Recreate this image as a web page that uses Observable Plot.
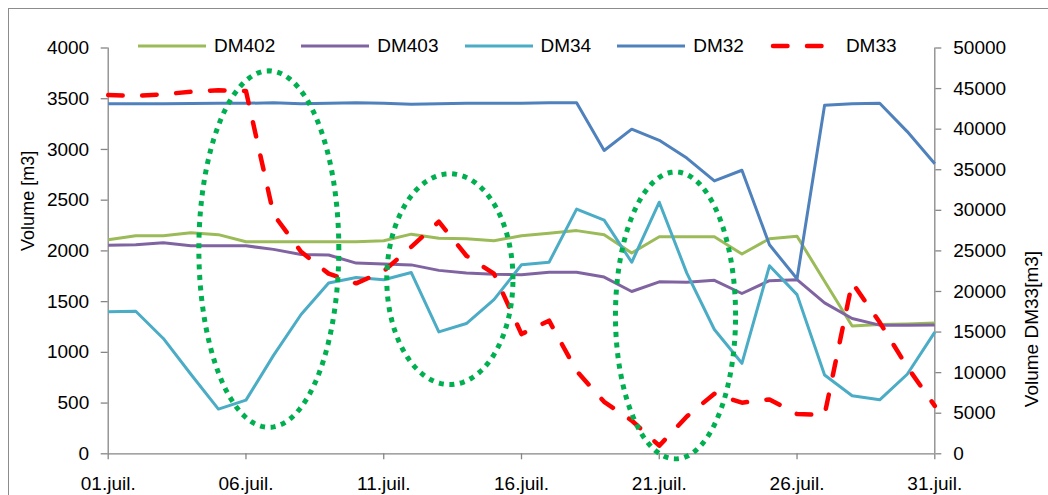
<!DOCTYPE html>
<html><head><meta charset="utf-8">
<script src="https://cdn.jsdelivr.net/npm/d3@7"></script>
<script src="https://cdn.jsdelivr.net/npm/@observablehq/plot@0.6"></script>
<style>
html,body{margin:0;padding:0;background:#fff;overflow:hidden;}
#wrap{position:relative;width:1048px;height:495px;font-family:"Liberation Sans",Arial,sans-serif;}
#frame{position:absolute;left:8px;top:8px;width:1100px;height:600px;border:1.3px solid #8c8c8c;box-sizing:border-box;pointer-events:none;}
#chart{position:absolute;left:0;top:0;}
#legend{position:absolute;left:138px;top:35px;display:flex;align-items:center;font-size:19px;line-height:22px;white-space:nowrap;}
.item{display:flex;align-items:center;margin-right:26px;}
.item svg{margin-right:8px;display:block;}
</style></head>
<body><div id="wrap"><div id="frame"></div><div id="chart"></div><div id="legend"></div></div>
<script>
// ---- data ----
const days = d3.range(1, 32);
const xTickDays = [1, 6, 11, 16, 21, 26, 31];
const leftTicks = [0, 500, 1000, 1500, 2000, 2500, 3000, 3500, 4000];
const rightTicks = [0, 5000, 10000, 15000, 20000, 25000, 30000, 35000, 40000, 45000, 50000];

const seriesNames = ["DM402", "DM403", "DM34", "DM32", "DM33"];
const seriesColors = ["#9bbb59", "#8064a2", "#4bacc6", "#4f81bd", "#ff0000"];

const dm402 = [2110, 2150, 2150, 2180, 2160, 2090, 2090, 2090, 2090, 2090, 2100, 2165, 2125, 2120, 2100, 2150, 2175, 2200, 2160, 1980, 2140, 2140, 2140, 1970, 2120, 2145, 1700, 1260, 1275, 1280, 1290];
const dm403 = [2055, 2060, 2080, 2050, 2050, 2050, 2015, 1965, 1960, 1880, 1870, 1862, 1808, 1782, 1770, 1765, 1790, 1790, 1742, 1600, 1695, 1690, 1710, 1580, 1706, 1716, 1488, 1333, 1268, 1268, 1270];
const dm34  = [1400, 1405, 1137, 784, 441, 529, 970, 1373, 1683, 1738, 1716, 1787, 1202, 1284, 1520, 1863, 1888, 2412, 2304, 1888, 2480, 1781, 1225, 892, 1853, 1569, 777, 572, 532, 784, 1199];
const dm32  = [3450, 3450, 3450, 3452, 3455, 3455, 3460, 3450, 3455, 3460, 3455, 3445, 3450, 3455, 3455, 3455, 3460, 3460, 2990, 3200, 3090, 2915, 2690, 2795, 2060, 1725, 3435, 3450, 3455, 3176, 2860];
const dm33  = [44200, 44100, 44300, 44600, 44800, 44700, 29500, 24900, 22200, 21000, 22500, 25500, 28600, 24400, 22200, 14750, 16400, 10200, 6400, 4100, 1000, 4600, 7400, 6300, 6700, 4900, 4800, 21100, 16200, 10700, 5900];

// annotation ellipses (centre in days / left-axis units, radii)
const ellipseCx = [6.83, 13.4, 21.59];
const ellipseCy = [2018, 1721, 1364];
const ellipseRx = [2.54, 2.29, 2.18];
const ellipseRy = [1757, 1039, 1414];

// ---- build ----
const k = 4000 / 50000; // right axis -> left axis units
const seriesValues = [dm402, dm403, dm34, dm32, dm33];
const secondary = [false, false, false, false, true];
const axisColor = "#868686";

const rows = [];
seriesNames.forEach((name, s) => seriesValues[s].forEach((v, i) =>
  rows.push({series: name, day: days[i], y: secondary[s] ? v * k : v})));

const ell = [];
ellipseCx.forEach((cx, e) => {
  d3.range(0, 360, 2).forEach(a => {
    const t = a * Math.PI / 180;
    ell.push({id: e, x: cx + ellipseRx[e] * Math.cos(t), y: ellipseCy[e] + ellipseRy[e] * Math.sin(t)});
  });
});

const lineMarks = seriesNames.map((name, s) => Plot.line(rows.filter(r => r.series === name), {
  x: "day", y: "y", stroke: seriesColors[s],
  strokeWidth: secondary[s] ? 4.5 : 3,
  strokeDasharray: secondary[s] ? "14.5,19.5" : null,
  strokeLinecap: secondary[s] ? "round" : "butt",
  strokeLinejoin: "round"
}));

const chart = Plot.plot({
  width: 1048, height: 495,
  marginLeft: 107.7, marginRight: 113.7, marginTop: 47.5, marginBottom: 41.7,
  style: {fontFamily: "'Liberation Sans', Arial, sans-serif", fontSize: "19px", background: "transparent", color: "black", overflow: "visible"},
  x: {domain: [1, 31]},
  y: {domain: [0, 4000]},
  marks: [
    Plot.axisX(xTickDays, {tickSize: 6, tickPadding: 16.5, stroke: axisColor, strokeWidth: 1.3, fill: "black", label: null,
      tickFormat: d => String(d).padStart(2, "0") + ".juil."}),
    Plot.axisY(leftTicks, {anchor: "left", tickSize: 7, tickPadding: 12, stroke: axisColor, strokeWidth: 1.3, fill: "black",
      tickFormat: d => String(d), label: null}),
    Plot.axisY(rightTicks.map(v => v * k), {anchor: "right", tickSize: 6, tickPadding: 12.5, stroke: axisColor, strokeWidth: 1.3, fill: "black",
      tickFormat: d => String(Math.round(d / k)), label: null}),
    Plot.ruleX([1], {stroke: axisColor, strokeWidth: 1.3}),
    Plot.ruleX([31], {stroke: axisColor, strokeWidth: 1.3}),
    Plot.ruleY([0], {stroke: axisColor, strokeWidth: 1.3}),
    Plot.text(["Volume [m3]"], {text: d => d, frameAnchor: "left", rotate: -90, dx: -79.7, fontSize: 18, fill: "black"}),
    Plot.text(["Volume DM33[m3]"], {text: d => d, frameAnchor: "right", rotate: -90, dx: 96.7, fontSize: 19, fill: "black"}),
    ...lineMarks,
    Plot.line(ell, {x: "x", y: "y", z: "id", curve: "linear-closed", stroke: "#00b050", strokeWidth: 5, strokeDasharray: "5,5.6", strokeLinecap: "butt"})
  ]
});
document.getElementById("chart").appendChild(chart);

// legend
const legend = document.getElementById("legend");
seriesNames.forEach((name, s) => {
  const item = document.createElement("div");
  item.className = "item";
  const dash = secondary[s] ? 'stroke-dasharray="14.5,19.5" stroke-linecap="round"' : '';
  item.innerHTML = `<svg width="68" height="10"><line x1="${secondary[s] ? 3 : 0}" x2="68" y1="5" y2="5" stroke="${seriesColors[s]}" stroke-width="${secondary[s] ? 4.5 : 3}" ${dash}/></svg><span>${name}</span>`;
  legend.appendChild(item);
});
</script>
</body></html>
